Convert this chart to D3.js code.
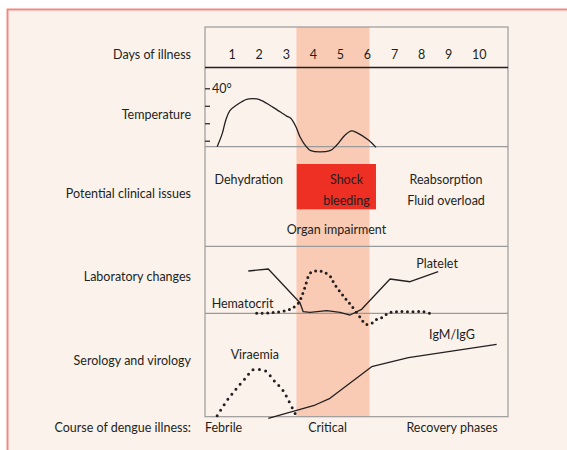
<!DOCTYPE html>
<html>
<head>
<meta charset="utf-8">
<script src="https://cdn.jsdelivr.net/npm/d3@7"></script>
<style>
  body { margin: 0; background: #fff; }
  text { font-family: Lato, "Noto Sans", sans-serif; fill: #231f20; }
</style>
</head>
<body>
<script>
// days along the top
var days = [1, 2, 3, 4, 5, 6, 7, 8, 9, 10];

// row titles down the left side
var rowLabels = ["Days of illness", "Temperature", "Potential clinical issues",
                 "Laboratory changes", "Serology and virology", "Course of dengue illness:"];

// critical phase, in days
var criticalPhase = [3.38, 6.08];

// temperature curve [day, degrees C]
var temperature = [[0.45, 36.66], [0.64, 37.42], [0.77, 38.19], [0.92, 38.72], [1.17, 39.04],
  [1.54, 39.37], [1.91, 39.39], [2.10, 39.29], [2.52, 38.91], [3.02, 38.41], [3.17, 38.28],
  [3.36, 37.80], [3.51, 37.23], [3.70, 36.75], [3.91, 36.43], [4.62, 36.43], [4.87, 36.75],
  [5.18, 37.33], [5.42, 37.56], [5.61, 37.46], [6.04, 37.04], [6.32, 36.62]];
var tempTicks = [37, 38, 39, 40];

// laboratory changes (relative level)
var platelet = [[1.60, 6.35], [2.34, 6.65], [3.51, 1.59], [3.63, 0.24], [3.88, 0.15], [4.50, 0.39],
  [4.99, 0.15], [5.36, -0.26], [5.79, 0.60], [6.84, 5.15], [7.58, 4.74], [8.62, 6.25]];
var hematocrit = [[1.91, 0], [2.47, 0.09], [2.96, 0.39], [3.21, 0.75], [3.45, 1.5], [3.57, 2.49],
  [3.70, 3.99], [3.88, 6.0], [4.07, 6.35], [4.25, 6.35], [4.41, 6.16], [4.62, 5.6], [4.77, 4.5],
  [4.99, 3.24], [5.18, 2.25], [5.39, 1.25], [5.76, -0.75], [5.95, -1.65], [6.16, -1.5],
  [6.31, -1.0], [6.5, -0.75], [6.81, 0.09], [7.15, 0.24], [7.58, 0.24], [8.07, 0.24], [8.34, -0.06]];

// serology and virology (relative level)
var igm = [[2.34, -0.15], [4.07, 1.13], [4.62, 1.78], [6.16, 4.84], [7.52, 5.71], [10.78, 7.0]];
var viraemia = [[0.45, 0.1], [0.80, 1.52], [1.17, 2.75], [1.54, 3.87], [1.75, 4.52], [1.95, 4.58],
  [2.22, 4.45], [2.59, 3.38], [2.89, 2.51], [3.11, 1.45], [3.36, 0.16]];

// clinical issues text [label lines, day]
var issuesLeft = [["Dehydration"], 1.62];
var issuesShock = [["Shock", "bleeding"], 5.23];
var issuesRight = [["Reabsorption", "Fluid overload"], 8.91];
var issuesOrgan = [["Organ impairment"], 4.86];
var shockBox = [3.39, 6.32];

// phases along the bottom
var phaseLabels = ["Febrile", "Critical", "Recovery phases"];
var phaseDays = [0, 4.53, 9.13];

/*
    svg and scales
*/
var svg = d3.select("body").append("svg")
    .attr("width", 567)
    .attr("height", 450);

var frameTop = 27, headLine = 67.5, tempLine = 146.7, issueLine = 246.3, labLine = 313.3, frameBottom = 416.7;

var x = d3.scaleLinear().domain([0, 11.2]).range([205, 508]);
var yTemp = d3.scaleLinear().domain([37, 40]).range([140.7, 88.3]);
var yLab = d3.scaleLinear().domain([0, 10]).range([labLine, issueLine + 0.4]);
var ySero = d3.scaleLinear().domain([0, 10]).range([frameBottom, labLine]);

// page background and pink frame
svg.append("rect").attr("x", 7).attr("y", 9).attr("width", 560).attr("height", 441)
    .attr("fill", "#fcf2ec");
svg.append("path").attr("d", "M7.5,450V9.5H567")
    .attr("fill", "none").attr("stroke", "#ef8a82").attr("stroke-width", 2);

// critical phase band
svg.append("rect")
    .attr("x", x(criticalPhase[0]))
    .attr("y", frameTop)
    .attr("width", x(criticalPhase[1]) - x(criticalPhase[0]))
    .attr("height", frameBottom - frameTop)
    .attr("fill", "#f9cbb5");

// shock box
svg.append("rect")
    .attr("x", x(shockBox[0]))
    .attr("y", 164)
    .attr("width", x(shockBox[1]) - x(shockBox[0]))
    .attr("height", 45.3)
    .attr("fill", "#ee2f24");

// grid lines
svg.append("rect")
    .attr("x", x(0)).attr("y", frameTop)
    .attr("width", x(11.2) - x(0)).attr("height", frameBottom - frameTop)
    .attr("fill", "none").attr("stroke", "#9a9a9a").attr("stroke-width", 1.2);

svg.selectAll(".hline")
    .data([tempLine, issueLine, labLine])
    .enter().append("line")
    .attr("class", "hline")
    .attr("x1", x(0)).attr("x2", x(11.2))
    .attr("y1", function(d) { return d; }).attr("y2", function(d) { return d; })
    .attr("stroke", "#9a9a9a").attr("stroke-width", 1.2);

svg.append("line")
    .attr("x1", x(0)).attr("x2", x(11.2))
    .attr("y1", headLine).attr("y2", headLine)
    .attr("stroke", "#231f20").attr("stroke-width", 1.5);

// row titles
var rowY = [59, 119, 198, 281, 365, 432];
svg.selectAll(".rowlabel")
    .data(rowLabels)
    .enter().append("text")
    .attr("class", "rowlabel")
    .attr("x", 191)
    .attr("y", function(d, i) { return rowY[i]; })
    .attr("text-anchor", "end")
    .style("font-size", "12.5px")
    .text(function(d) { return d; });

// day numbers (left edge offset so single digits sit centred on the day)
svg.selectAll(".day")
    .data(days)
    .enter().append("text")
    .attr("class", "day")
    .attr("x", function(d) { return x(d) - 3.5; })
    .attr("y", 59)
    .style("font-size", "12.5px")
    .text(function(d) { return d; });

// temperature ticks
var tempAxis = svg.append("g")
    .attr("transform", "translate(" + x(0) + ",0)")
    .call(d3.axisRight(yTemp)
        .tickValues(tempTicks)
        .tickSize(5)
        .tickPadding(2)
        .tickFormat(function(d) { return d === 40 ? "40°" : ""; }));
tempAxis.select(".domain").remove();
tempAxis.selectAll("line").attr("stroke", "#231f20").attr("stroke-width", 1.2);
tempAxis.selectAll("text").attr("fill", "#231f20")
    .style("font-family", "Lato, 'Noto Sans', sans-serif").style("font-size", "12.5px");

// line generators
var tempLineGen = d3.line()
    .curve(d3.curveCatmullRom.alpha(0.5))
    .x(function(d) { return x(d[0]); })
    .y(function(d) { return yTemp(d[1]); });

var labLineGen = d3.line()
    .x(function(d) { return x(d[0]); })
    .y(function(d) { return yLab(d[1]); });

var labSmooth = d3.line()
    .curve(d3.curveCatmullRom.alpha(0.5))
    .x(function(d) { return x(d[0]); })
    .y(function(d) { return yLab(d[1]); });

var seroLineGen = d3.line()
    .x(function(d) { return x(d[0]); })
    .y(function(d) { return ySero(d[1]); });

var seroSmooth = d3.line()
    .curve(d3.curveCatmullRom.alpha(0.5))
    .x(function(d) { return x(d[0]); })
    .y(function(d) { return ySero(d[1]); });

function solid(d, gen) {
    svg.append("path").attr("d", gen(d))
        .attr("fill", "none").attr("stroke", "#231f20")
        .attr("stroke-width", 1.3).attr("stroke-linejoin", "round");
}
function dotted(d, gen, gap) {
    svg.append("path").attr("d", gen(d))
        .attr("fill", "none").attr("stroke", "#231f20")
        .attr("stroke-width", 3).attr("stroke-linecap", "round")
        .attr("stroke-dasharray", "0 " + gap);
}

solid(temperature, tempLineGen);
solid(platelet, labLineGen);
dotted(hematocrit, labSmooth, 5.5);
solid(igm, seroLineGen);
dotted(viraemia, seroSmooth, 6.5);

// clinical issues text
function issueText(item, y0) {
    svg.append("g").selectAll("text")
        .data(item[0])
        .enter().append("text")
        .attr("x", x(item[1]))
        .attr("y", function(d, i) { return y0 + i * 21; })
        .attr("text-anchor", "middle")
        .style("font-size", "12.5px")
        .text(function(d) { return d; });
}
issueText(issuesLeft, 184);
issueText(issuesShock, 184);
issueText(issuesRight, 184);
issueText(issuesOrgan, 234);

// series labels
var seriesLabels = [
    {text: "Platelet", day: 8.58, y: yLab(6.8)},
    {text: "Hematocrit", day: 1.39, y: yLab(0.84)},
    {text: "IgM/IgG", day: 9.13, y: ySero(7.47)},
    {text: "Viraemia", day: 1.84, y: ySero(5.55)}
];
svg.selectAll(".slabel")
    .data(seriesLabels)
    .enter().append("text")
    .attr("class", "slabel")
    .attr("x", function(d) { return x(d.day); })
    .attr("y", function(d) { return d.y; })
    .attr("text-anchor", "middle")
    .style("font-size", "12.5px")
    .text(function(d) { return d.text; });

// phases
svg.selectAll(".phase")
    .data(phaseLabels)
    .enter().append("text")
    .attr("class", "phase")
    .attr("x", function(d, i) { return x(phaseDays[i]); })
    .attr("y", 432)
    .attr("text-anchor", function(d, i) { return i === 0 ? "start" : "middle"; })
    .style("font-size", "12.5px")
    .text(function(d) { return d; });
</script>
</body>
</html>
